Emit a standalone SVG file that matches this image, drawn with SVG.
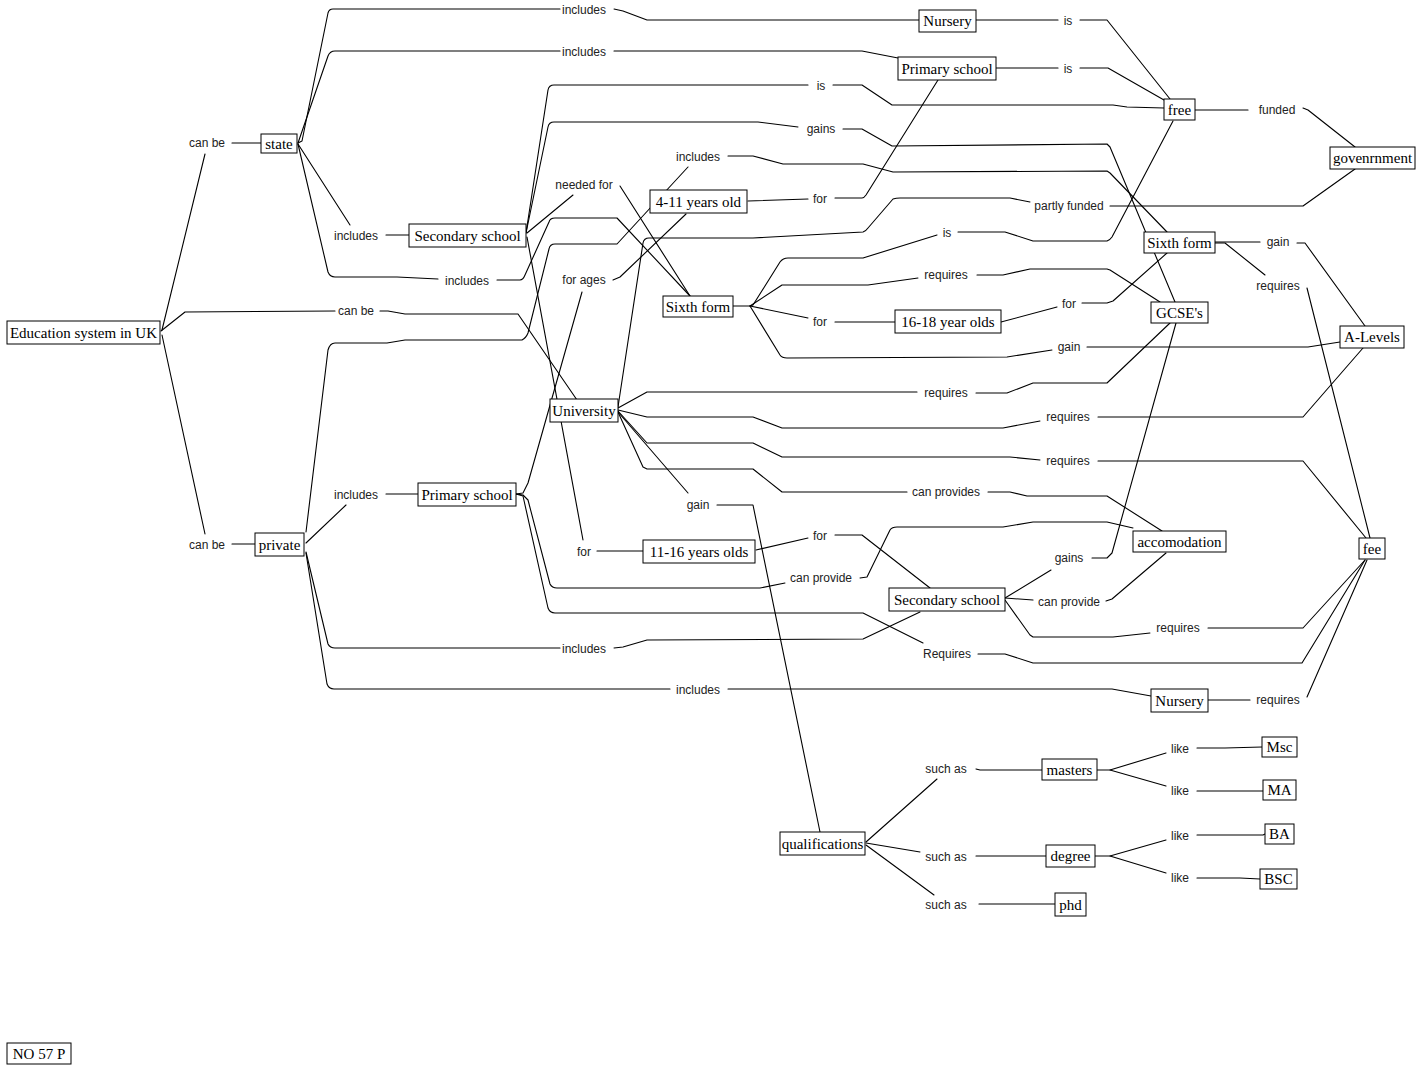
<svg xmlns="http://www.w3.org/2000/svg" width="1421" height="1066" viewBox="0 0 1421 1066">
<style>
.ln{fill:none;stroke:#000;stroke-width:1.1;stroke-linejoin:round;stroke-linecap:round}
.bx{fill:#fff;stroke:#000;stroke-width:1}
.ct{font-family:"Liberation Serif","Times New Roman",serif;font-size:15px;fill:#000;text-anchor:middle}
.lp{font-family:"Liberation Sans",Arial,sans-serif;font-size:12px;fill:#222;text-anchor:middle}
</style>
<rect width="1421" height="1066" fill="#fff"/>
<g id="connectors">
<path class="ln" d="M162,330 L205,154"/>
<path class="ln" d="M232,143 L261,143"/>
<path class="ln" d="M161,331 L185,312 L335,311"/>
<path class="ln" d="M380,311 L388,311 L405,314 L518,314 L577,400"/>
<path class="ln" d="M162,335 L205,534"/>
<path class="ln" d="M232,544 L255,544"/>
<path class="ln" d="M298,143 L302,141 L328,13 Q329,9 333,9 L560,9"/>
<path class="ln" d="M614,9 L623,11 L647,20 L919,20"/>
<path class="ln" d="M298,143 L328,56 Q330,51 335,51 L560,51"/>
<path class="ln" d="M614,51 L862,51 L898,58"/>
<path class="ln" d="M298,144 L350,225"/>
<path class="ln" d="M386,235 L409,235"/>
<path class="ln" d="M298,144 L328,272 Q330,277 335,277 L397,277 L438,279"/>
<path class="ln" d="M497,280 L520,280 Q523,280 525,275 L549,222 Q550,218 555,218 L617,218 L690,296"/>
<path class="ln" d="M526,233 L548,90 Q549,85 554,85 L808,85"/>
<path class="ln" d="M833,85 L862,85 L892,105 L1113,105 L1127,107 L1164,108"/>
<path class="ln" d="M526,233 L548,127 Q549,122 554,122 L758,122 L798,127"/>
<path class="ln" d="M843,129 L862,129 L892,146 L1107,144 L1110,147 L1175,302"/>
<path class="ln" d="M527,233 L573,195"/>
<path class="ln" d="M620,186 L690,296"/>
<path class="ln" d="M527,237 L583,540"/>
<path class="ln" d="M597,551 L643,551"/>
<path class="ln" d="M306,532 L328,350 Q330,343 335,343 L387,343 L405,340 L522,340 Q526,338 528,333 L549,249 Q550,244 555,244 L617,244 L688,167"/>
<path class="ln" d="M728,156 L753,156 L783,164 L863,164 L893,172 L1107,171 L1110,173 L1167,232"/>
<path class="ln" d="M748,201 L808,199"/>
<path class="ln" d="M835,198 L862,198 Q864,198 866,195 L938,80"/>
<path class="ln" d="M516,494 L523,493 L528,483 L582,292"/>
<path class="ln" d="M613,280 L620,277 L686,214"/>
<path class="ln" d="M733,306 L750,306 L753,305 L780,262 Q783,258 788,258 L863,258 L937,235"/>
<path class="ln" d="M958,232 L1005,232 L1033,241 L1107,241 Q1110,240 1112,237 L1173,121"/>
<path class="ln" d="M750,306 L782,285 L868,285 L918,278"/>
<path class="ln" d="M977,275 L1003,275 L1030,269 L1107,269 L1110,270 L1160,302"/>
<path class="ln" d="M750,306 L808,318"/>
<path class="ln" d="M835,322 L895,322"/>
<path class="ln" d="M1001,322 L1057,307"/>
<path class="ln" d="M1082,303 L1107,303 L1113,301 L1167,253"/>
<path class="ln" d="M750,306 L780,355 Q782,358 787,358 L1007,357 L1052,350"/>
<path class="ln" d="M1087,347 L1308,347 L1340,342"/>
<path class="ln" d="M976,20 L1058,20"/>
<path class="ln" d="M1080,20 L1107,20 L1170,99"/>
<path class="ln" d="M996,68 L1058,68"/>
<path class="ln" d="M1080,68 L1108,68 L1164,100"/>
<path class="ln" d="M1195,110 L1248,110"/>
<path class="ln" d="M1303,108 L1308,110 L1355,147"/>
<path class="ln" d="M1110,206 L1303,206 L1355,169"/>
<path class="ln" d="M618,407 L643,243 Q644,238 649,238 L753,238 L863,232 Q866,231 868,228 L893,199 Q896,198 900,198 L1010,198 L1030,202"/>
<path class="ln" d="M1215,242 L1260,242"/>
<path class="ln" d="M1297,243 L1305,243 L1365,326"/>
<path class="ln" d="M1215,243 L1225,243 L1265,275"/>
<path class="ln" d="M1307,288 L1370,538"/>
<path class="ln" d="M618,408 L647,392 L917,392"/>
<path class="ln" d="M976,393 L1007,393 L1033,383 L1107,383 L1170,323"/>
<path class="ln" d="M618,410 L647,417 L753,417 L782,428 L1003,428 L1040,421"/>
<path class="ln" d="M1098,417 L1303,417 L1363,348"/>
<path class="ln" d="M618,411 L647,443 L753,443 L782,457 L1010,457 L1040,460"/>
<path class="ln" d="M1098,461 L1303,461 L1366,538"/>
<path class="ln" d="M618,412 L643,467 L647,469 L753,469 L782,492 L907,492"/>
<path class="ln" d="M988,492 L1010,492 L1027,496 L1107,496 L1162,531"/>
<path class="ln" d="M618,412 L688,493"/>
<path class="ln" d="M717,505 L753,505 L820,832"/>
<path class="ln" d="M516,494 L523,495 L528,500 L550,584 Q552,588 557,588 L760,588 L785,583"/>
<path class="ln" d="M860,578 L867,577 L890,530 Q892,527 897,527 L1003,527 L1033,522 L1107,522 L1133,528"/>
<path class="ln" d="M516,494 L523,496 L548,608 Q550,613 555,613 L863,613 L923,643"/>
<path class="ln" d="M978,654 L1005,654 L1033,663 L1302,663 L1365,560"/>
<path class="ln" d="M306,543 L346,505"/>
<path class="ln" d="M386,494 L418,494"/>
<path class="ln" d="M306,552 L328,644 Q330,648 335,648 L560,648"/>
<path class="ln" d="M614,648 L623,647 L647,640 L863,639 L920,612"/>
<path class="ln" d="M306,553 L327,684 Q329,689 334,689 L670,689"/>
<path class="ln" d="M728,689 L1112,689 L1151,696"/>
<path class="ln" d="M1208,700 L1250,700"/>
<path class="ln" d="M1307,697 L1367,560"/>
<path class="ln" d="M756,550 L808,538"/>
<path class="ln" d="M835,535 L862,535 L930,588"/>
<path class="ln" d="M1005,598 L1051,570"/>
<path class="ln" d="M1092,558 L1107,558 L1112,553 L1176,323"/>
<path class="ln" d="M1005,598 L1033,600"/>
<path class="ln" d="M1106,601 L1112,599 L1166,553"/>
<path class="ln" d="M1005,600 L1030,635 L1033,637 L1113,637 L1150,633"/>
<path class="ln" d="M1208,628 L1303,628 L1365,560"/>
<path class="ln" d="M866,842 L937,779"/>
<path class="ln" d="M976,769 L980,770 L1042,770"/>
<path class="ln" d="M866,843 L920,852"/>
<path class="ln" d="M976,856 L1046,856"/>
<path class="ln" d="M866,845 L934,895"/>
<path class="ln" d="M979,904 L1055,904"/>
<path class="ln" d="M1097,770 L1110,770 L1166,753"/>
<path class="ln" d="M1197,748 L1225,748 L1262,747"/>
<path class="ln" d="M1110,770 L1166,786"/>
<path class="ln" d="M1197,791 L1263,791"/>
<path class="ln" d="M1095,856 L1110,856 L1166,840"/>
<path class="ln" d="M1197,835 L1263,835 L1265,834"/>
<path class="ln" d="M1110,856 L1166,873"/>
<path class="ln" d="M1197,878 L1240,878 L1260,879"/>
</g>
<g id="links">
<text class="lp" x="207" y="147">can be</text>
<text class="lp" x="356" y="315">can be</text>
<text class="lp" x="207" y="549">can be</text>
<text class="lp" x="584" y="14">includes</text>
<text class="lp" x="584" y="56">includes</text>
<text class="lp" x="356" y="240">includes</text>
<text class="lp" x="467" y="285">includes</text>
<text class="lp" x="1068" y="25">is</text>
<text class="lp" x="1068" y="73">is</text>
<text class="lp" x="821" y="90">is</text>
<text class="lp" x="821" y="133">gains</text>
<text class="lp" x="698" y="161">includes</text>
<text class="lp" x="584" y="189">needed for</text>
<text class="lp" x="820" y="203">for</text>
<text class="lp" x="1277" y="114">funded</text>
<text class="lp" x="1069" y="210">partly funded</text>
<text class="lp" x="947" y="237">is</text>
<text class="lp" x="1278" y="246">gain</text>
<text class="lp" x="946" y="279">requires</text>
<text class="lp" x="1278" y="290">requires</text>
<text class="lp" x="584" y="284">for ages</text>
<text class="lp" x="820" y="326">for</text>
<text class="lp" x="1069" y="308">for</text>
<text class="lp" x="1069" y="351">gain</text>
<text class="lp" x="946" y="397">requires</text>
<text class="lp" x="1068" y="421">requires</text>
<text class="lp" x="1068" y="465">requires</text>
<text class="lp" x="356" y="499">includes</text>
<text class="lp" x="946" y="496">can provides</text>
<text class="lp" x="698" y="509">gain</text>
<text class="lp" x="584" y="556">for</text>
<text class="lp" x="820" y="540">for</text>
<text class="lp" x="821" y="582">can provide</text>
<text class="lp" x="1069" y="562">gains</text>
<text class="lp" x="1069" y="606">can provide</text>
<text class="lp" x="1178" y="632">requires</text>
<text class="lp" x="584" y="653">includes</text>
<text class="lp" x="947" y="658">Requires</text>
<text class="lp" x="698" y="694">includes</text>
<text class="lp" x="1278" y="704">requires</text>
<text class="lp" x="946" y="773">such as</text>
<text class="lp" x="946" y="861">such as</text>
<text class="lp" x="946" y="909">such as</text>
<text class="lp" x="1180" y="753">like</text>
<text class="lp" x="1180" y="795">like</text>
<text class="lp" x="1180" y="840">like</text>
<text class="lp" x="1180" y="882">like</text>
</g>
<g id="n-education"><rect class="bx" x="7" y="321" width="153" height="23"/><text class="ct" x="83.5" y="337.5">Education system in UK</text></g>
<g id="n-state"><rect class="bx" x="261" y="134" width="36" height="19"/><text class="ct" x="279" y="148.5">state</text></g>
<g id="n-private"><rect class="bx" x="255" y="533" width="49" height="23"/><text class="ct" x="279.5" y="549.5">private</text></g>
<g id="n-nursery1"><rect class="bx" x="919" y="10" width="57" height="22"/><text class="ct" x="947.5" y="26">Nursery</text></g>
<g id="n-primary1"><rect class="bx" x="898" y="57" width="98" height="23"/><text class="ct" x="947" y="73.5">Primary school</text></g>
<g id="n-free"><rect class="bx" x="1164" y="99" width="31" height="21"/><text class="ct" x="1179.5" y="114.5">free</text></g>
<g id="n-government"><rect class="bx" x="1330" y="147" width="85" height="22"/><text class="ct" x="1372.5" y="163">govenrnment</text></g>
<g id="n-secondary1"><rect class="bx" x="409" y="224" width="117" height="23"/><text class="ct" x="467.5" y="240.5">Secondary school</text></g>
<g id="n-4-11"><rect class="bx" x="650" y="190" width="97" height="23"/><text class="ct" x="698.5" y="206.5">4-11 years old</text></g>
<g id="n-sixth1"><rect class="bx" x="663" y="296" width="70" height="21"/><text class="ct" x="698" y="311.5">Sixth form</text></g>
<g id="n-16-18"><rect class="bx" x="895" y="310" width="106" height="23"/><text class="ct" x="948" y="326.5">16-18 year olds</text></g>
<g id="n-sixth2"><rect class="bx" x="1144" y="232" width="71" height="21"/><text class="ct" x="1179.5" y="247.5">Sixth form</text></g>
<g id="n-gcse"><rect class="bx" x="1151" y="302" width="57" height="21"/><text class="ct" x="1179.5" y="317.5">GCSE's</text></g>
<g id="n-alevels"><rect class="bx" x="1340" y="326" width="64" height="22"/><text class="ct" x="1372" y="342">A-Levels</text></g>
<g id="n-university"><rect class="bx" x="550" y="399" width="68" height="23"/><text class="ct" x="584" y="415.5">University</text></g>
<g id="n-primary2"><rect class="bx" x="418" y="483" width="98" height="23"/><text class="ct" x="467" y="499.5">Primary school</text></g>
<g id="n-11-16"><rect class="bx" x="643" y="540" width="112" height="23"/><text class="ct" x="699" y="556.5">11-16 years olds</text></g>
<g id="n-secondary2"><rect class="bx" x="889" y="588" width="116" height="23"/><text class="ct" x="947" y="604.5">Secondary school</text></g>
<g id="n-accomodation"><rect class="bx" x="1133" y="531" width="93" height="21"/><text class="ct" x="1179.5" y="546.5">accomodation</text></g>
<g id="n-fee"><rect class="bx" x="1359" y="538" width="26" height="21"/><text class="ct" x="1372" y="553.5">fee</text></g>
<g id="n-nursery2"><rect class="bx" x="1151" y="689" width="57" height="23"/><text class="ct" x="1179.5" y="705.5">Nursery</text></g>
<g id="n-qualifications"><rect class="bx" x="780" y="832" width="85" height="23"/><text class="ct" x="822.5" y="848.5">qualifications</text></g>
<g id="n-masters"><rect class="bx" x="1042" y="759" width="55" height="21"/><text class="ct" x="1069.5" y="774.5">masters</text></g>
<g id="n-degree"><rect class="bx" x="1046" y="845" width="49" height="22"/><text class="ct" x="1070.5" y="861">degree</text></g>
<g id="n-phd"><rect class="bx" x="1055" y="893" width="31" height="23"/><text class="ct" x="1070.5" y="909.5">phd</text></g>
<g id="n-msc"><rect class="bx" x="1262" y="737" width="35" height="20"/><text class="ct" x="1279.5" y="752">Msc</text></g>
<g id="n-ma"><rect class="bx" x="1263" y="780" width="33" height="20"/><text class="ct" x="1279.5" y="795">MA</text></g>
<g id="n-ba"><rect class="bx" x="1265" y="824" width="29" height="20"/><text class="ct" x="1279.5" y="839">BA</text></g>
<g id="n-bsc"><rect class="bx" x="1260" y="869" width="37" height="20"/><text class="ct" x="1278.5" y="884">BSC</text></g>
<g id="n-no57p"><rect class="bx" x="7" y="1043" width="64" height="21"/><text class="ct" x="39" y="1058.5">NO 57 P</text></g>
</svg>
